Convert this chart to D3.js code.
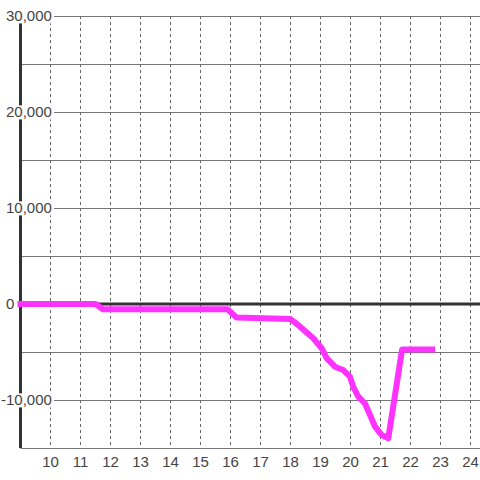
<!DOCTYPE html>
<html>
<head>
<meta charset="utf-8">
<script src="https://cdn.jsdelivr.net/npm/d3@7"></script>
<style>
  html, body { margin: 0; padding: 0; background: #fff; }
  svg { display: block; font-family: "Liberation Sans", Arial, sans-serif; }
</style>
</head>
<body>
<main></main>
<script>
// hour of day vs. value
const hours = [9, 11.5, 11.75, 15.9, 16.2, 18.0, 18.32, 18.76, 19.04, 19.21, 19.48,
  19.76, 19.98, 20.09, 20.26, 20.48, 20.65, 20.82, 21.04, 21.26, 21.72, 22.72];
const values = [0, 0, -550, -550, -1400, -1560, -2360, -3570, -4610, -5660, -6530,
  -6880, -7570, -8610, -9660, -10340, -11560, -12780, -13650, -13990, -4740, -4740];

const xTicks = [10, 11, 12, 13, 14, 15, 16, 17, 18, 19, 20, 21, 22, 23, 24];
const yGrid = [-15000, -10000, -5000, 5000, 10000, 15000, 20000, 25000, 30000];
const yLabels = [30000, 20000, 10000, 0, -10000];

const width = 480;
const height = 480;

const x = d3.scaleLinear().domain([9, 24]).range([20.5, 470.5]);
const y = d3.scaleLinear().domain([-15000, 30000]).range([448, 16]);

const svg = d3.select('main')
  .append('svg')
  .attr('width', width)
  .attr('height', height)
  .attr('viewBox', [0, 0, width, height]);

svg.append('rect').attr('width', width).attr('height', height).attr('fill', '#fff');

// horizontal grid
svg.append('g')
  .selectAll('line')
  .data(yGrid)
  .join('line')
  .attr('x1', x(9))
  .attr('x2', width)
  .attr('y1', d => Math.round(y(d)) + 0.5)
  .attr('y2', d => Math.round(y(d)) + 0.5)
  .attr('stroke', '#777')
  .attr('stroke-width', 1);

// vertical dashed grid
svg.append('g')
  .selectAll('line')
  .data(xTicks)
  .join('line')
  .attr('x1', d => x(d))
  .attr('x2', d => x(d))
  .attr('y1', y(30000))
  .attr('y2', y(-15000))
  .attr('stroke', '#666')
  .attr('stroke-width', 1)
  .attr('stroke-dasharray', '3,3');

// zero line
svg.append('line')
  .attr('x1', x(9))
  .attr('x2', width)
  .attr('y1', y(0))
  .attr('y2', y(0))
  .attr('stroke', '#333')
  .attr('stroke-width', 3);

// y axis line
svg.append('line')
  .attr('x1', x(9))
  .attr('x2', x(9))
  .attr('y1', y(30000))
  .attr('y2', y(-15000))
  .attr('stroke', '#333')
  .attr('stroke-width', 3);

// data line
const line = d3.line()
  .x((d, i) => x(hours[i]))
  .y(d => y(d));

svg.append('path')
  .attr('d', line(values))
  .attr('fill', 'none')
  .attr('stroke', '#ff33ff')
  .attr('stroke-width', 6)
  .attr('stroke-linejoin', 'round')
  .attr('stroke-linecap', 'square');

// y labels with white background
const fmt = d3.format(',');
const yLabelGroups = svg.append('g')
  .selectAll('g')
  .data(yLabels)
  .join('g');

yLabelGroups.append('rect').attr('fill', '#fff');

yLabelGroups.append('text')
  .attr('x', d => (d < 0 ? 1 : 6))
  .attr('y', d => y(d))
  .attr('dy', '0.36em')
  .attr('font-size', 15)
  .attr('fill', '#444')
  .text(d => fmt(d).replace('−', '-'));

yLabelGroups.each(function() {
  const g = d3.select(this);
  const b = g.select('text').node().getBBox();
  g.select('rect')
    .attr('x', b.x)
    .attr('y', b.y + 2)
    .attr('width', b.width + 2)
    .attr('height', b.height - 3);
});

// x labels
svg.append('g')
  .selectAll('text')
  .data(xTicks)
  .join('text')
  .attr('x', d => x(d))
  .attr('y', y(-15000) + 19)
  .attr('text-anchor', 'middle')
  .attr('font-size', 15)
  .attr('fill', '#444')
  .text(d => d);
</script>
</body>
</html>
